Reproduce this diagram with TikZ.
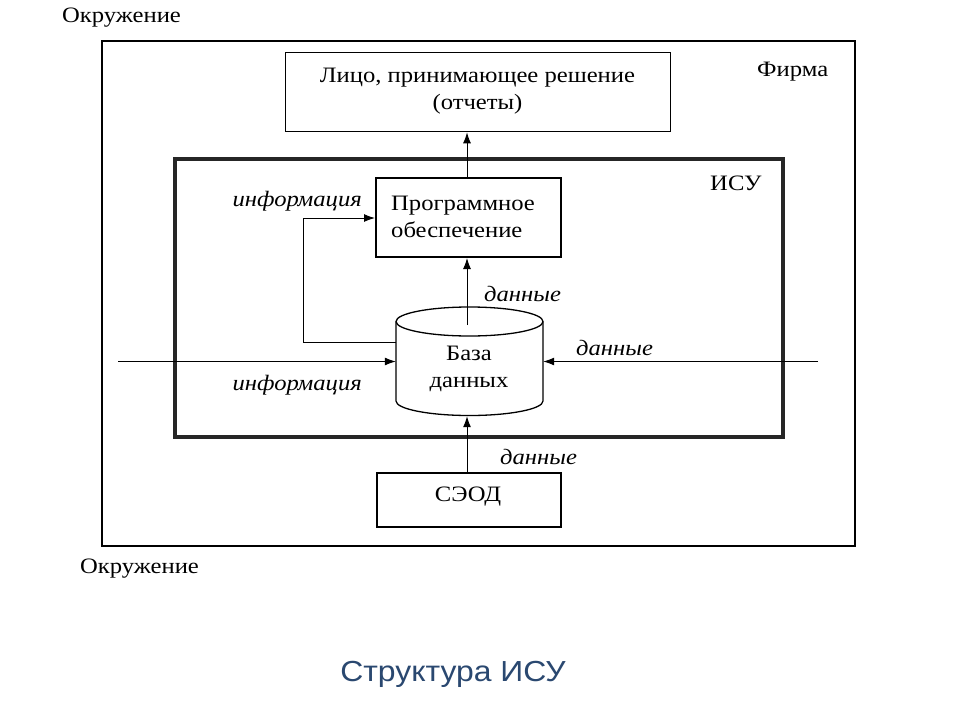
\documentclass[tikz,border=0pt]{standalone}
\usepackage{fontspec}
\setmainfont{Liberation Serif}[FakeStretch=1.12]
\newfontfamily\titlefont{Liberation Sans}[FakeStretch=1.1]
\usetikzlibrary{arrows.meta}
\definecolor{titleblue}{RGB}{42,72,112}
\tikzset{
  box/.style={draw, line width=1.3pt, inner sep=0pt},
  conn/.style={line width=1pt, -{Latex[length=11pt,width=8pt]}},
  lbl/.style={font=\fontsize{22}{26}\selectfont, inner sep=0pt},
  ital/.style={font=\fontsize{22}{26}\selectfont\itshape, inner sep=0pt},
}
\begin{document}
\begin{tikzpicture}[x=1pt,y=-1pt]
\useasboundingbox[fill=white] (0,0) rectangle (960,720);
% frames
\node[box, line width=1.5pt, minimum width=753pt, minimum height=505pt, anchor=north west] (firm) at (101,40) {};
\node[box, line width=3.5pt, draw=black!85, minimum width=608pt, minimum height=278pt, anchor=north west] (isu) at (173,157) {};
% boxes
\node[box, minimum width=385pt, minimum height=79pt, anchor=north west] (lpr) at (285,52) {};
\node[box, line width=2pt, minimum width=185pt, minimum height=79pt, anchor=north west] (prog) at (375,177) {};
\node[box, line width=1.5pt, minimum width=184pt, minimum height=54pt, anchor=north west] (seod) at (376,472) {};
% cylinder
\draw[line width=1.3pt] (469.5,321.5) ellipse [x radius=73.5, y radius=14.5];
\draw[line width=1.3pt] (396,321.5) -- (396,401) arc [start angle=180, end angle=0, x radius=73.5, y radius=14.5] -- (543,321.5);
\node[inner sep=0pt, minimum width=147pt, minimum height=109pt] (db) at (469.5,361.5) {};
\coordinate (dbtop) at (467,325);
\coordinate (lin) at (118,361.5);
\coordinate (rin) at (818,361.5);
% texts
\node[lbl, anchor=west] (env1) at (62,17.5) {Окружение};
\node[lbl, anchor=west] (env2) at (80,569) {Окружение};
\node[lbl, anchor=west] (firmlbl) at (757,72) {Фирма};
\node[lbl, anchor=west] (isulbl) at (710,183) {ИСУ};
\node[lbl, align=center] (lprt) at (477.5,91) {Лицо, принимающее решение\\[1pt](отчеты)};
\node[lbl, align=left, anchor=west] (progt) at (391,216.5) {Программное\\[1pt]обеспечение};
\node[lbl, align=center] (dbt) at (469,368.5) {База\\[1pt]данных};
\node[lbl] (seodt) at (468,496.5) {СЭОД};
\node[ital, anchor=east] (inf1) at (362,201) {информация};
\node[ital, anchor=east] (inf2) at (362,385) {информация};
\node[ital, anchor=west] (dan1) at (484,294) {данные};
\node[ital, anchor=west] (dan2) at (576,348) {данные};
\node[ital, anchor=west] (dan3) at (500,457) {данные};
\node[font=\titlefont\fontsize{29}{34}\selectfont, text=titleblue, inner sep=0pt] (title) at (453,674) {Структура ИСУ};
% connectors
\draw[conn] (prog.north -| 467,0) -- (lpr.south -| 467,0);
\draw[conn] (dbtop) -- (prog.south -| dbtop);
\draw[conn] (396,342) -- (303,342) |- (prog.west |- 0,218);
\draw[conn] (lin) -- (db.west);
\draw[conn] (rin) -- (db.east);
\draw[conn] (seod.north -| 467,0) -- (db.south -| 467,0);
\end{tikzpicture}
\end{document}
